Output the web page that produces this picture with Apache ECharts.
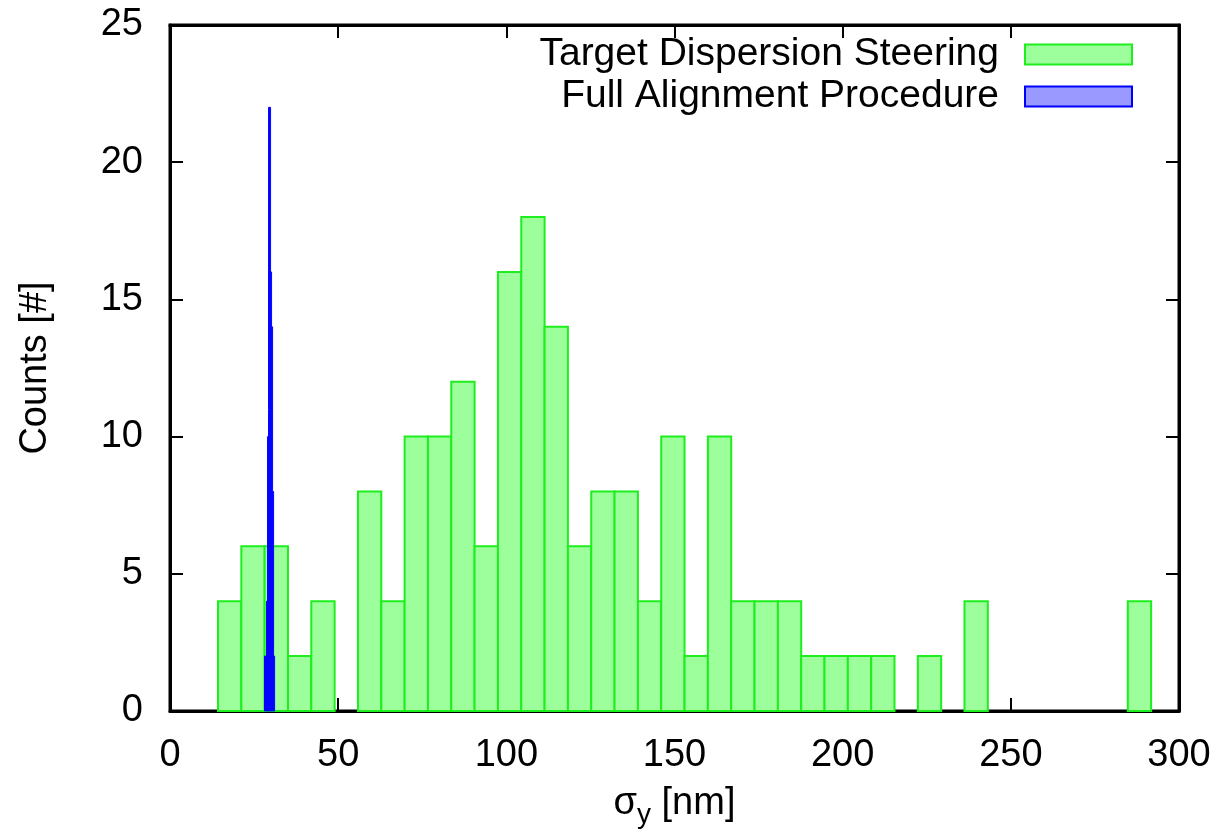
<!DOCTYPE html>
<html>
<head>
<meta charset="utf-8">
<script src="https://cdn.jsdelivr.net/npm/echarts@6/dist/echarts.min.js"></script>
<style>
html,body{margin:0;padding:0;background:#fff;}
#chart{width:1223px;height:835px;}
</style>
</head>
<body>
<div id="chart"></div>
<script>
// ---- data ----
const xTicks = [0, 50, 100, 150, 200, 250, 300];
const yTicks = [0, 5, 10, 15, 20, 25];

const tdsName = 'Target Dispersion Steering';
const tdsBinStart = 14.27;
const tdsBinWidth = 6.936;
const tdsCounts = [4, 6, 6, 2, 4, 0, 8, 4, 10, 10,
                   12, 6, 16, 18, 14, 6, 8, 8, 4, 10,
                   2, 10, 4, 4, 4, 2, 2, 2, 2, 0,
                   2, 0, 4, 0, 0, 0, 0, 0, 0, 4];

const fapName = 'Full Alignment Procedure';
const fapBinStart = 28.1;
const fapBinWidth = 0.3;
const fapCounts = [2, 2, 4, 10, 22, 22, 16, 14, 8, 2];

function toBins(start, width, counts) {
  return counts.map((c, i) => [start + i * width, start + (i + 1) * width, c]);
}

function histRender(params, api) {
  const x0 = api.value(0), x1 = api.value(1), c = api.value(2);
  if (!c) return null;
  const p0 = api.coord([x0, c]);
  const p1 = api.coord([x1, 0]);
  return {
    type: 'rect',
    shape: { x: p0[0], y: p0[1], width: p1[0] - p0[0], height: p1[1] - p0[1] },
    style: api.style()
  };
}

const FONT = 'Liberation Sans, Arial, Helvetica, sans-serif';
const FS = 38;

const chart = echarts.init(document.getElementById('chart'), null, { renderer: 'canvas' });

const axisLine = { show: true, onZero: false, lineStyle: { color: '#000', width: 3 } };
const tick = { show: true, inside: true, length: 13, lineStyle: { color: '#000', width: 2 } };

chart.setOption({
  animation: false,
  backgroundColor: '#fff',
  grid: { left: 170, right: 44, top: 25, bottom: 124, containLabel: false,
          show: true, borderColor: '#000', borderWidth: 3, backgroundColor: 'transparent' },
  legend: {
    orient: 'vertical',
    right: 90,
    top: 35,
    padding: 0,
    align: 'right',
    itemWidth: 107,
    itemHeight: 20,
    itemGap: 3,
    icon: 'rect',
    selectedMode: false,
    textStyle: { fontFamily: FONT, fontSize: 39, color: '#000', padding: [0, 21, 0, 0] },
    data: [tdsName, fapName]
  },
  xAxis: [{
    type: 'value', min: xTicks[0], max: xTicks[xTicks.length - 1], interval: 50,
    position: 'bottom',
    axisLine, axisTick: tick, splitLine: { show: false },
    axisLabel: { color: '#000', fontFamily: FONT, fontSize: FS, margin: 26 },
    name: '{s|σ}{sub|y}{s| [nm]}',
    nameLocation: 'middle', nameGap: 68,
    nameTextStyle: {
      rich: {
        s: { fontFamily: FONT, fontSize: FS, color: '#000' },
        sub: { fontFamily: FONT, fontSize: 28, color: '#000', padding: [22, 0, 0, 0] }
      }
    }
  }, {
    type: 'value', min: xTicks[0], max: xTicks[xTicks.length - 1], interval: 50,
    position: 'top', show: true,
    axisLine, axisTick: tick, splitLine: { show: false },
    axisLabel: { show: false }
  }],
  yAxis: [{
    type: 'value', min: yTicks[0], max: yTicks[yTicks.length - 1], interval: 5,
    position: 'left',
    axisLine, axisTick: tick, splitLine: { show: false },
    axisLabel: { color: '#000', fontFamily: FONT, fontSize: FS, margin: 27 },
    name: 'Counts [#]', nameLocation: 'middle', nameGap: 115, nameRotate: 90,
    nameTextStyle: { fontFamily: FONT, fontSize: FS, color: '#000' }
  }, {
    type: 'value', min: yTicks[0], max: yTicks[yTicks.length - 1], interval: 5,
    position: 'right', show: true,
    axisLine, axisTick: tick, splitLine: { show: false },
    axisLabel: { show: false }
  }],
  series: [{
    name: tdsName,
    type: 'custom',
    xAxisIndex: 0, yAxisIndex: 0,
    renderItem: histRender,
    encode: { x: [0, 1], y: 2 },
    itemStyle: { color: '#9cff9c', borderColor: '#1eee1e', borderWidth: 2 },
    data: toBins(tdsBinStart, tdsBinWidth, tdsCounts),
    z: 2
  }, {
    name: fapName,
    type: 'custom',
    xAxisIndex: 0, yAxisIndex: 0,
    renderItem: histRender,
    encode: { x: [0, 1], y: 2 },
    itemStyle: { color: '#9999ff', borderColor: '#0000ff', borderWidth: 1 },
    data: toBins(fapBinStart, fapBinWidth, fapCounts),
    z: 3
  }, {
    name: 'mirror',
    type: 'line',
    xAxisIndex: 1, yAxisIndex: 1,
    data: [],
    silent: true
  }]
});
</script>
</body>
</html>
